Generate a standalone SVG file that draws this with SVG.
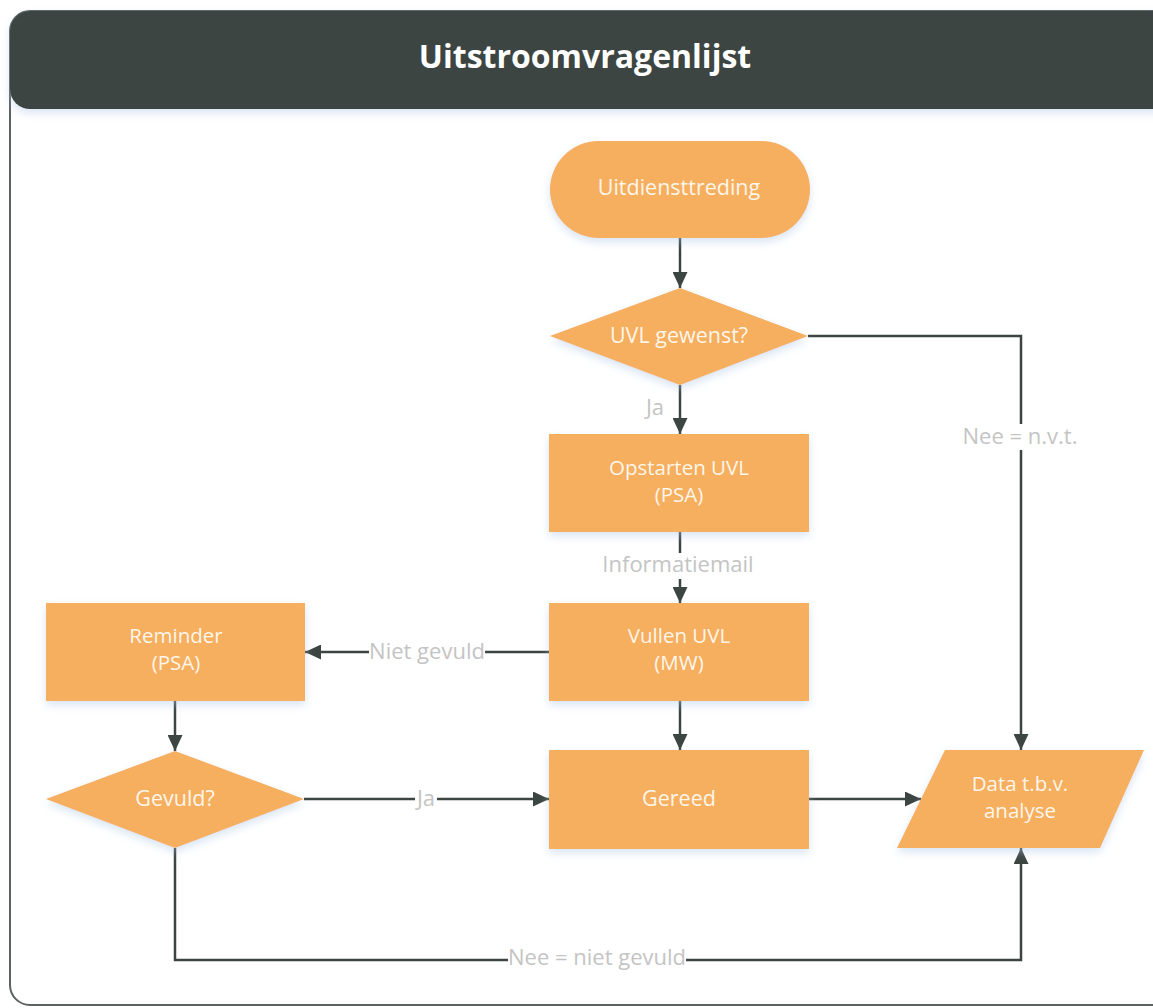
<svg xmlns="http://www.w3.org/2000/svg" width="1153" height="1008" viewBox="0 0 1153 1008">
<defs>
<filter id="sh" x="-20%" y="-20%" width="140%" height="150%">
<feDropShadow dx="0" dy="4" stdDeviation="4" flood-color="#a9c4e6" flood-opacity="0.45"/>
</filter>
<marker id="ah" viewBox="0 0 16 15" refX="16" refY="7.5" markerWidth="16" markerHeight="15" markerUnits="userSpaceOnUse" orient="auto">
<path d="M0,0 L16,7.5 L0,15 Z" fill="#3c4542"/>
</marker>
<style>
.node{fill:#f6ae5f;filter:url(#sh)}
.nt{font-family:"Open Sans","Liberation Sans",sans-serif;font-size:21.5px;fill:#fff6ea;text-anchor:middle}
.nt2{font-family:"Open Sans","Liberation Sans",sans-serif;font-size:20.5px;fill:#fff6ea;text-anchor:middle}
.ln{fill:none;stroke:#3c4542;stroke-width:2.5}
.lb{font-family:"Open Sans","Liberation Sans",sans-serif;font-size:22px;fill:#c4c4c4;text-anchor:middle}
.lbg{fill:#ffffff}
</style>
</defs>
<rect width="1153" height="1008" fill="#ffffff"/>
<g id="frame">
<rect x="10" y="11" width="1170" height="994" rx="20" fill="#ffffff" stroke="#5b6361" stroke-width="2"/>
<path d="M10,31 a20,20 0 0 1 20,-20 H1160 V109 H30 a20,20 0 0 1 -20,-20 Z" fill="#3d4542" filter="url(#sh)"/>
<path d="M1133,11 a20,20 0 0 1 20,20 V89 a20,20 0 0 1 -20,20 Z" fill="#3d4542"/>
<text x="585" y="68" font-family="'Open Sans','Liberation Sans',sans-serif" font-size="32" font-weight="bold" fill="#ffffff" text-anchor="middle">Uitstroomvragenlijst</text>
</g>
<g id="connectors">
<line class="ln" x1="680" y1="238" x2="680" y2="288" marker-end="url(#ah)"/>
<line class="ln" x1="680" y1="385" x2="680" y2="434" marker-end="url(#ah)"/>
<polyline class="ln" points="808,336 1021,336 1021,750" marker-end="url(#ah)"/>
<line class="ln" x1="680" y1="532" x2="680" y2="603" marker-end="url(#ah)"/>
<line class="ln" x1="549" y1="652" x2="305" y2="652" marker-end="url(#ah)"/>
<line class="ln" x1="680" y1="701" x2="680" y2="750" marker-end="url(#ah)"/>
<line class="ln" x1="175" y1="701" x2="175" y2="751" marker-end="url(#ah)"/>
<line class="ln" x1="304" y1="799" x2="549" y2="799" marker-end="url(#ah)"/>
<line class="ln" x1="809" y1="799" x2="921" y2="799" marker-end="url(#ah)"/>
<polyline class="ln" points="175,848 175,960 1021,960 1021,848" marker-end="url(#ah)"/>
<text class="lb" x="655" y="415">Ja</text>
<rect class="lbg" x="960" y="424" width="120" height="26"/>
<text class="lb" x="1020" y="444">Nee = n.v.t.</text>
<rect class="lbg" x="603" y="553" width="150" height="26"/>
<text class="lb" x="678" y="572">Informatiemail</text>
<rect class="lbg" x="369" y="640" width="116" height="26"/>
<text class="lb" x="427" y="659">Niet gevuld</text>
<rect class="lbg" x="415" y="787" width="22" height="26"/>
<text class="lb" x="426" y="806">Ja</text>
<rect class="lbg" x="508" y="946" width="178" height="26"/>
<text class="lb" x="597" y="965">Nee = niet gevuld</text>
</g>
<g id="n-uitdienst">
<rect class="node" x="550" y="141" width="260" height="97" rx="48.5"/>
<text class="nt" x="679" y="195">Uitdiensttreding</text>
</g>
<g id="n-uvl-gewenst">
<polygon class="node" points="680,288 808,336 680,385 550,336"/>
<text class="nt" x="679" y="343">UVL gewenst?</text>
</g>
<g id="n-opstarten">
<rect class="node" x="549" y="434" width="260" height="98"/>
<text class="nt2" x="679" y="475">Opstarten UVL</text>
<text class="nt2" x="679" y="502">(PSA)</text>
</g>
<g id="n-vullen">
<rect class="node" x="549" y="603" width="260" height="98"/>
<text class="nt2" x="679" y="643">Vullen UVL</text>
<text class="nt2" x="679" y="670">(MW)</text>
</g>
<g id="n-reminder">
<rect class="node" x="46" y="603" width="259" height="98"/>
<text class="nt2" x="176" y="643">Reminder</text>
<text class="nt2" x="176" y="670">(PSA)</text>
</g>
<g id="n-gevuld">
<polygon class="node" points="175,751 304,799 175,848 46,799"/>
<text class="nt" x="175" y="806">Gevuld?</text>
</g>
<g id="n-gereed">
<rect class="node" x="549" y="750" width="260" height="99"/>
<text class="nt" x="679" y="806">Gereed</text>
</g>
<g id="n-data">
<polygon class="node" points="945,750 1144,750 1100,848 897,848"/>
<text class="nt2" x="1020" y="791">Data t.b.v.</text>
<text class="nt2" x="1020" y="818">analyse</text>
</g>
</svg>
